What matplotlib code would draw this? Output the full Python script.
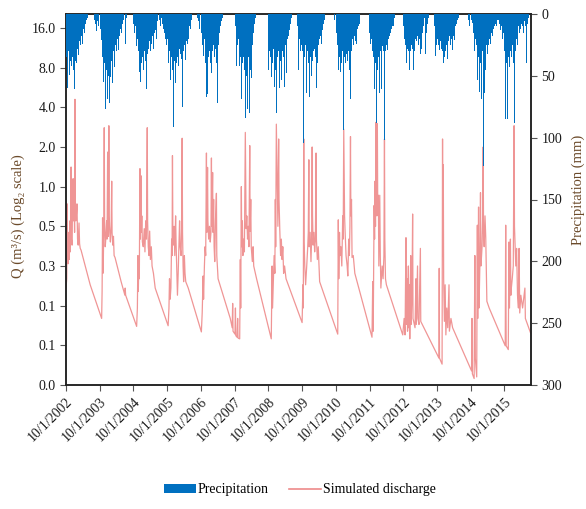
import matplotlib
matplotlib.use("Agg")
import matplotlib.pyplot as plt
from matplotlib.patches import Patch
from matplotlib.lines import Line2D
import numpy as np
import pandas as pd

plt.rcParams['font.family'] = ['Liberation Serif', 'DejaVu Serif']

# ---------------- Simulated discharge (m3/s), key points
Q_WY2003 = [("2002-10-01",0.17),("2002-10-09",0.20),("2002-10-14",0.74),("2002-10-18",0.30),("2002-10-24",0.26),("2002-10-29",0.45),("2002-11-04",0.28),("2002-11-12",0.55),("2002-11-17",0.32),("2002-11-25",1.41),("2002-11-29",0.40),("2002-12-06",0.36),("2002-12-12",0.9),("2002-12-17",1.15),("2002-12-22",0.55),("2002-12-29",0.7),("2003-01-02",0.45),("2003-01-06",4.6),("2003-01-10",0.8),("2003-01-15",0.55),("2003-01-22",0.62),("2003-01-28",0.74),("2003-02-03",0.40),("2003-02-10",0.36),("2003-02-19",0.53),("2003-02-25",0.37),("2003-03-04",0.34),("2003-03-13",0.33),("2003-06-20",0.18),("2003-10-22",0.10)]
Q_WY2004 = [("2003-10-27",0.16),("2003-11-01",0.58),("2003-11-05",0.22),("2003-11-10",0.30),("2003-11-14",0.45),("2003-11-19",2.8),("2003-11-23",0.55),("2003-11-30",0.35),("2003-12-08",0.42),("2003-12-15",0.55),("2003-12-20",0.40),("2003-12-26",1.83),("2003-12-30",0.50),("2004-01-03",0.42),("2004-01-08",2.9),("2004-01-12",0.60),("2004-01-18",0.45),("2004-01-25",0.38),("2004-02-02",0.50),("2004-02-08",1.1),("2004-02-12",0.45),("2004-02-20",0.36),("2004-02-27",0.42),("2004-03-05",0.30),("2004-03-15",0.29),("2004-05-20",0.19),("2004-06-30",0.15),("2004-07-03",0.17),("2004-07-08",0.15),("2004-11-04",0.087)]
Q_WY2005 = [("2004-11-12",0.12),("2004-11-18",0.30),("2004-11-22",0.16),("2004-11-27",0.24),("2004-12-03",0.20),("2004-12-10",1.37),("2004-12-14",0.40),("2004-12-21",1.21),("2004-12-25",0.45),("2004-12-30",0.60),("2005-01-05",0.38),("2005-01-15",0.35),("2005-01-25",0.48),("2005-02-02",0.32),("2005-02-10",0.55),("2005-02-18",0.40),("2005-02-27",2.8),("2005-03-03",0.55),("2005-03-10",0.35),("2005-03-18",0.30),("2005-03-25",0.46),("2005-04-02",0.28),("2005-04-12",0.35),("2005-04-20",0.25),("2005-05-05",0.22),("2005-05-24",0.17),("2005-10-11",0.088)]
Q_WY2006 = [("2005-10-20",0.12),("2005-10-26",0.20),("2005-11-02",0.14),("2005-11-10",0.17),("2005-11-18",0.40),("2005-11-23",0.30),("2005-11-27",1.72),("2005-12-01",0.50),("2005-12-06",0.36),("2005-12-15",0.50),("2005-12-22",0.30),("2005-12-31",0.60),("2006-01-05",0.38),("2006-01-12",0.25),("2006-01-20",0.15),("2006-01-28",0.22),("2006-02-05",0.36),("2006-02-12",0.55),("2006-02-18",0.35),("2006-02-28",0.30),("2006-03-05",0.45),("2006-03-12",2.33),("2006-03-16",0.45),("2006-03-22",0.25),("2006-03-28",0.19),("2006-04-05",0.30),("2006-04-12",0.22),("2006-04-20",0.19),("2006-05-17",0.17),("2006-10-06",0.079)]
Q_WY2007 = [("2006-10-15",0.11),("2006-10-25",0.21),("2006-10-30",0.14),("2006-11-08",0.25),("2006-11-15",0.35),("2006-11-22",0.30),("2006-11-30",1.8),("2006-12-04",0.45),("2006-12-12",1.4),("2006-12-16",0.55),("2006-12-24",0.40),("2007-01-02",0.50),("2007-01-10",0.38),("2007-01-18",0.45),("2007-01-23",1.65),("2007-01-27",0.50),("2007-02-05",1.28),("2007-02-09",0.45),("2007-02-16",0.80),("2007-02-21",0.35),("2007-02-28",0.27),("2007-03-08",0.55),("2007-03-18",0.89),("2007-03-22",0.30),("2007-04-05",0.20),("2007-08-15",0.10),("2007-09-05",0.085),("2007-09-10",0.13),("2007-09-14",0.08),("2007-10-05",0.076),("2007-10-10",0.12),("2007-10-14",0.074),("2007-10-28",0.072),("2007-11-03",0.10),("2007-11-07",0.071),("2007-11-25",0.070)]
Q_WY2008 = [("2007-12-02",0.28),("2007-12-06",0.12),("2007-12-13",1.0),("2007-12-17",0.35),("2007-12-24",0.55),("2007-12-30",0.30),("2008-01-06",0.40),("2008-01-15",0.32),("2008-01-25",2.58),("2008-01-29",1.1),("2008-02-03",0.48),("2008-02-10",0.60),("2008-02-18",0.40),("2008-02-26",0.50),("2008-03-04",0.35),("2008-03-13",2.05),("2008-03-17",0.46),("2008-03-24",0.80),("2008-03-29",0.35),("2008-04-10",0.27),("2008-04-18",0.35),("2008-04-25",0.25),("2008-05-26",0.20),("2008-11-01",0.070)]
Q_WY2009 = [("2008-11-10",0.25),("2008-11-15",0.12),("2008-11-22",0.18),("2008-12-02",0.30),("2008-12-10",0.22),("2008-12-15",0.80),("2008-12-19",0.35),("2008-12-26",2.98),("2009-01-01",1.63),("2009-01-06",0.90),("2009-01-12",0.50),("2009-01-20",2.3),("2009-01-24",0.80),("2009-02-01",0.48),("2009-02-10",0.30),("2009-02-18",0.40),("2009-02-26",0.28),("2009-03-06",0.35),("2009-03-15",0.22),("2009-03-25",0.25),("2009-04-10",0.20),("2009-10-01",0.093)]
Q_WY2010 = [("2009-10-10",0.18),("2009-10-14",0.12),("2009-10-19",2.3),("2009-10-23",0.38),("2009-10-30",0.25),("2009-11-08",0.18),("2009-11-20",0.25),("2009-12-01",0.35),("2009-12-07",0.45),("2009-12-13",1.6),("2009-12-17",0.35),("2009-12-27",0.45),("2010-01-05",0.27),("2010-01-12",0.40),("2010-01-18",2.0),("2010-01-22",0.60),("2010-01-28",0.36),("2010-02-06",0.45),("2010-02-14",0.32),("2010-02-22",0.40),("2010-03-01",1.8),("2010-03-05",0.40),("2010-03-15",0.28),("2010-03-25",0.35),("2010-04-09",0.19),("2010-10-22",0.076)]
Q_WY2011 = [("2010-10-25",0.20),("2010-10-28",0.56),("2010-11-02",0.20),("2010-11-10",0.45),("2010-11-16",0.30),("2010-11-25",0.35),("2010-12-05",0.25),("2010-12-15",0.60),("2010-12-20",0.40),("2010-12-26",2.73),("2010-12-30",1.28),("2011-01-04",0.60),("2011-01-10",0.45),("2011-01-20",0.30),("2011-02-01",0.25),("2011-02-08",0.21),("2011-02-18",0.40),("2011-02-25",0.30),("2011-03-03",0.50),("2011-03-09",2.4),("2011-03-13",0.60),("2011-03-20",0.80),("2011-03-26",0.29),("2011-04-08",0.30),("2011-04-25",0.22),("2011-10-28",0.072)]
Q_WY2012 = [("2011-11-05",0.19),("2011-11-10",0.08),("2011-11-16",0.30),("2011-11-20",0.72),("2011-11-25",0.40),("2011-11-30",1.1),("2011-12-05",0.50),("2011-12-11",3.08),("2011-12-15",0.90),("2011-12-20",0.60),("2011-12-25",3.0),("2011-12-29",0.70),("2012-01-05",0.86),("2012-01-10",0.25),("2012-01-20",0.86),("2012-01-26",0.30),("2012-02-01",0.17),("2012-02-15",0.25),("2012-02-25",0.20),("2012-03-05",0.30),("2012-03-11",2.3),("2012-03-15",0.40),("2012-03-22",0.20),("2012-04-01",0.18),("2012-09-25",0.075)]
Q_WY2013 = [("2012-10-10",0.10),("2012-10-20",0.075),("2012-10-30",0.41),("2012-11-03",0.09),("2012-11-12",0.20),("2012-11-16",0.08),("2012-11-25",0.25),("2012-11-29",0.085),("2012-12-06",0.18),("2012-12-10",0.07),("2012-12-20",0.30),("2012-12-24",0.09),("2013-01-03",0.15),("2013-01-10",0.62),("2013-01-14",0.10),("2013-02-05",0.085),("2013-02-15",0.20),("2013-02-19",0.09),("2013-03-04",0.25),("2013-03-08",0.10),("2013-03-20",0.09),("2013-04-04",0.34),("2013-04-08",0.095),("2013-10-22",0.05),("2013-10-25",0.24),("2013-10-28",0.05),("2013-11-25",0.045)]
Q_WY2014 = [("2013-11-30",2.3),("2013-12-03",0.30),("2013-12-08",1.47),("2013-12-12",0.20),("2013-12-20",0.095),("2013-12-28",0.18),("2014-01-05",0.075),("2014-01-15",0.12),("2014-01-25",0.085),("2014-02-08",0.18),("2014-02-12",0.08),("2014-03-01",0.10),("2014-03-19",0.085),("2014-10-10",0.040),("2014-10-15",0.10),("2014-10-19",0.038)]
Q_WY2015 = [("2014-11-07",0.035),("2014-11-15",0.30),("2014-11-20",0.05),("2014-12-05",0.036),("2014-12-12",0.51),("2014-12-16",0.10),("2014-12-25",0.70),("2014-12-30",0.12),("2015-01-08",0.25),("2015-01-15",0.90),("2015-01-20",0.25),("2015-02-01",0.35),("2015-02-08",0.60),("2015-02-13",2.0),("2015-02-17",0.45),("2015-02-24",0.35),("2015-03-05",0.60),("2015-03-13",0.41),("2015-03-25",0.135),("2015-04-19",0.12),("2015-10-10",0.062),("2015-10-15",0.51),("2015-10-20",0.062),("2015-11-12",0.058)]
Q_WY2016 = [("2015-11-19",0.38),("2015-11-25",0.12),("2015-12-05",0.40),("2015-12-10",0.15),("2015-12-15",0.17),("2015-12-25",0.20),("2016-01-05",0.25),("2016-01-14",2.9),("2016-01-18",0.50),("2016-01-25",0.36),("2016-02-01",0.25),("2016-02-10",0.34),("2016-02-20",0.15),("2016-03-01",0.12),("2016-03-08",0.34),("2016-03-15",0.11),("2016-03-27",0.15),("2016-04-15",0.12),("2016-05-10",0.17),("2016-05-15",0.10),("2016-07-15",0.076)]

# ---------------- Precipitation (mm), 10-day totals from 1 October of each water year
P_WY2003 = [35, 60, 30, 49, 38, 42, 56, 35, 45, 61, 38, 40, 28, 33, 22, 25, 18, 24, 12, 14, 15, 8, 5, 3, 0, 0, 0, 0, 0, 0, 5, 8, 3, 14, 6, 10]
P_WY2004 = [12, 21, 15, 35, 55, 40, 77, 45, 69, 50, 72, 51, 38, 56, 30, 40, 43, 25, 30, 20, 29, 18, 12, 15, 8, 5, 0, 24, 3, 0, 0, 0, 0, 0, 0, 0]
P_WY2005 = [8, 15, 10, 26, 20, 30, 47, 55, 40, 35, 45, 30, 25, 38, 61, 32, 28, 22, 30, 24, 18, 28, 15, 13, 20, 6, 0, 0, 5, 10, 3, 8, 12, 15, 20, 25]
P_WY2006 = [20, 40, 30, 53, 35, 45, 91, 38, 56, 30, 40, 35, 42, 28, 32, 36, 75, 30, 25, 37, 22, 24, 15, 20, 10, 12, 5, 0, 0, 0, 0, 0, 3, 6, 10, 12]
P_WY2007 = [15, 25, 34, 20, 30, 40, 67, 65, 35, 30, 40, 48, 30, 25, 35, 28, 40, 64, 72, 25, 15, 10, 6, 3, 0, 0, 0, 0, 0, 0, 0, 0, 0, 0, 0, 0]
P_WY2008 = [10, 30, 42, 25, 20, 42, 35, 69, 40, 35, 45, 84, 50, 77, 40, 35, 80, 45, 52, 25, 15, 8, 3, 0, 0, 0, 0, 0, 0, 0, 0, 0, 0, 0, 0, 0]
P_WY2009 = [45, 30, 35, 51, 40, 28, 59, 45, 80, 35, 30, 60, 40, 38, 53, 30, 35, 59, 25, 48, 20, 18, 13, 8, 3, 0, 0, 0, 0, 0, 0, 10, 45, 20, 30, 25]
P_WY2010 = [30, 104, 35, 25, 64, 30, 40, 67, 45, 35, 50, 38, 30, 28, 35, 60, 40, 25, 20, 18, 24, 15, 13, 8, 5, 0, 0, 0, 0, 0, 0, 0, 0, 0, 0, 5]
P_WY2011 = [15, 25, 45, 30, 35, 47, 40, 30, 94, 35, 40, 32, 38, 30, 45, 69, 26, 30, 20, 25, 18, 22, 24, 12, 10, 8, 0, 0, 0, 0, 0, 0, 0, 0, 0, 0]
P_WY2012 = [15, 24, 20, 30, 35, 61, 40, 88, 45, 35, 64, 30, 61, 35, 26, 30, 102, 30, 25, 29, 20, 18, 15, 12, 10, 10, 6, 3, 0, 0, 0, 0, 0, 0, 0, 0]
P_WY2013 = [10, 20, 25, 40, 28, 30, 45, 30, 25, 28, 35, 45, 30, 20, 22, 18, 25, 20, 32, 28, 15, 10, 3, 5, 32, 15, 8, 3, 0, 0, 0, 0, 0, 10, 34, 25]
P_WY2014 = [20, 25, 29, 22, 28, 30, 85, 40, 35, 30, 25, 36, 22, 18, 25, 20, 29, 18, 21, 15, 10, 8, 5, 3, 0, 0, 0, 0, 0, 0, 0, 0, 0, 0, 5, 10]
P_WY2015 = [5, 7, 10, 15, 30, 20, 25, 53, 35, 63, 40, 69, 30, 123, 64, 40, 45, 25, 32, 25, 20, 24, 15, 18, 12, 10, 8, 10, 5, 0, 5, 8, 13, 10, 20, 15]
P_WY2016 = [30, 85, 40, 85, 35, 43, 30, 35, 25, 40, 88, 30, 26, 20, 25, 10, 15, 12, 8, 10, 15, 6, 10, 40, 8, 5, 3, 0, 0]

Q_YEARS = [Q_WY2003, Q_WY2004, Q_WY2005, Q_WY2006, Q_WY2007, Q_WY2008, Q_WY2009,
           Q_WY2010, Q_WY2011, Q_WY2012, Q_WY2013, Q_WY2014, Q_WY2015, Q_WY2016]
P_YEARS = {2003: P_WY2003, 2004: P_WY2004, 2005: P_WY2005, 2006: P_WY2006, 2007: P_WY2007,
           2008: P_WY2008, 2009: P_WY2009, 2010: P_WY2010, 2011: P_WY2011, 2012: P_WY2012,
           2013: P_WY2013, 2014: P_WY2014, 2015: P_WY2015, 2016: P_WY2016}

left_ticks = [2**-5, 2**-4, 2**-3, 2**-2, 2**-1, 1, 2, 4, 8, 16]
left_ticklabels = ["0.0", "0.1", "0.1", "0.3", "0.5", "1.0", "2.0", "4.0", "8.0", "16.0"]
right_ticks = [0, 50, 100, 150, 200, 250, 300]
x_tick_years = list(range(2002, 2016))

# ---------------- build
q_dates = pd.to_datetime([d for yr in Q_YEARS for d, _ in yr])
q_vals = np.array([v for yr in Q_YEARS for _, v in yr])

W, H = 586, 509
fig = plt.figure(figsize=(W/100, H/100), dpi=100)
ax = fig.add_axes([66/W, 1-385/H, (531-66)/W, (385-14)/H])
ax2 = ax.twinx()

ax.plot(q_dates, q_vals, color='#EE8A8A', lw=0.9, alpha=0.9, zorder=2)
ax.set_yscale('log', base=2)
ax.set_ylim(2**-5, 2**4.352)
ax.set_yticks(left_ticks)
ax.set_yticklabels(left_ticklabels)
ax.minorticks_off()

for wy, vals in P_YEARS.items():
    start = pd.Timestamp(f"{wy-1}-10-01")
    dts = start + pd.to_timedelta(10*np.arange(len(vals)) + 5, unit='D')
    ax2.bar(dts, vals, width=10.5, color='#0070C0', linewidth=0, zorder=3)
ax2.set_ylim(300, 0)
ax2.set_yticks(right_ticks)

xt = [pd.Timestamp(f"{y}-10-01") for y in x_tick_years]
ax.set_xticks(xt)
ax.set_xticklabels([f"10/1/{y}" for y in x_tick_years], rotation=45, ha='right',
                   rotation_mode='anchor', fontsize=10, color='#1a1a1a')
ax.set_xlim(pd.Timestamp("2002-10-01"), pd.Timestamp("2016-07-15"))

for a in (ax, ax2):
    for s in a.spines.values():
        s.set_color('#222222')
        s.set_linewidth(1.1)
ax.tick_params(axis='y', labelsize=10, labelcolor='#1a1a1a', length=4, color='#555555')
ax.tick_params(axis='x', length=4, color='#555555')
ax2.tick_params(axis='y', labelsize=10, labelcolor='#1a1a1a', length=4, color='#555555')

ax.set_ylabel("Q (m³/s) (Log₂ scale)", fontsize=10.5, color='#6B4A2A')
ax.yaxis.set_label_coords(-0.088, 0.455)
ax2.set_ylabel("Precipitation (mm)", fontsize=10.5, color='#6B4A2A')
ax2.yaxis.set_label_coords(1.088, 0.526)

handles = [Patch(facecolor='#0070C0', edgecolor='none'),
           Line2D([0], [0], color='#EE8A8A', lw=1.2)]
fig.legend(handles, ["Precipitation", "Simulated discharge"], loc='center',
           bbox_to_anchor=(300/W, 1-490/H), ncol=2, frameon=False, fontsize=10,
           handlelength=2.3, handleheight=0.6, columnspacing=1.5, handletextpad=0.1)

fig.savefig("out.png", dpi=100)
